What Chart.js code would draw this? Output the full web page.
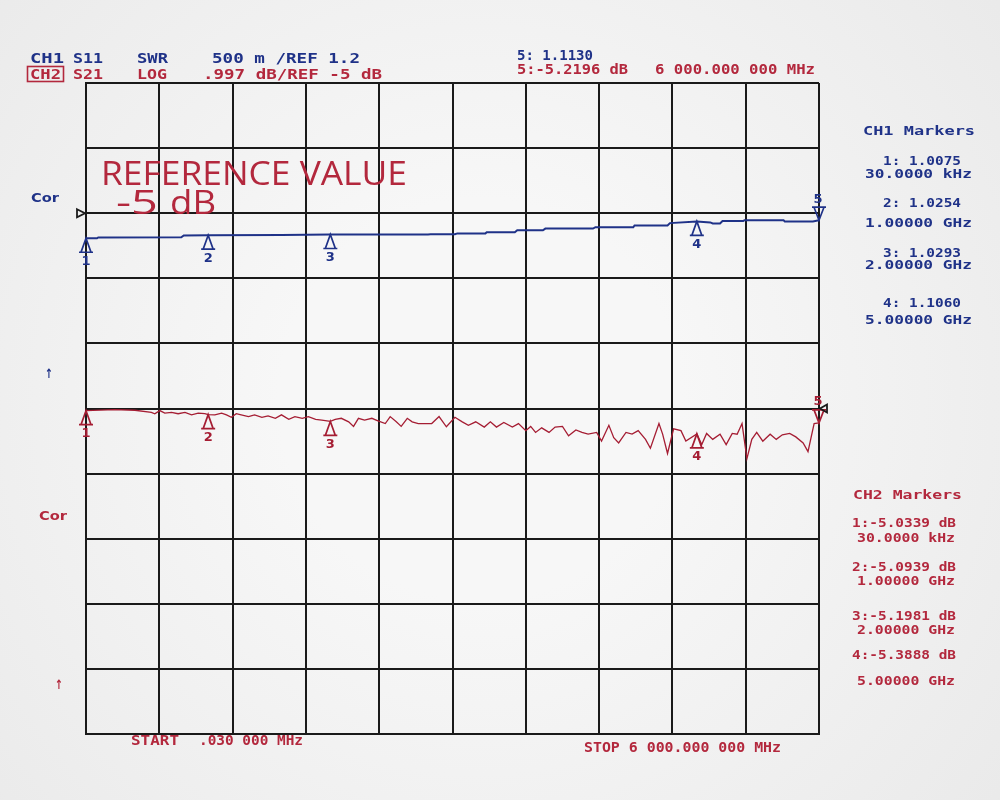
<!DOCTYPE html>
<html>
<head>
<meta charset="utf-8">
<title>S11 / S21 sweep</title>
<script src="https://cdn.jsdelivr.net/npm/chart.js@4.4.0/dist/chart.umd.min.js"></script>
<style>
  html, body { margin: 0; padding: 0; background: #f3f3f3; }
  #wrap { width: 1000px; height: 800px; }
</style>
</head>
<body>
<div id="wrap"><canvas id="plot" width="1000" height="800"></canvas></div>
<script>
// CH1 (S11, SWR) trace
const ch1Freq = [0.00003, 0.09, 0.10, 0.78, 0.80, 1.0, 1.6, 2.0, 2.80, 2.82, 3.02, 3.04, 3.27, 3.28, 3.51, 3.53, 3.74, 3.76, 4.15, 4.17, 4.48, 4.49, 4.76, 4.78, 5.0, 5.11, 5.13, 5.19, 5.21, 5.38, 5.39, 5.71, 5.72, 5.95, 6.0];
const ch1Swr = [1.0075, 1.0075, 1.012, 1.013, 1.024, 1.0254, 1.027, 1.0293, 1.030, 1.031, 1.031, 1.036, 1.036, 1.042, 1.042, 1.054, 1.054, 1.064, 1.064, 1.072, 1.072, 1.082, 1.082, 1.096, 1.106, 1.100, 1.094, 1.094, 1.108, 1.108, 1.113, 1.113, 1.106, 1.106, 1.113];

// CH2 (S21, LOG dB) trace
const ch2Freq = [0.00003, 0.235, 0.40, 0.535, 0.563, 0.604, 0.645, 0.70, 0.754, 0.81, 0.864, 0.918, 0.973, 1.0, 1.055, 1.11, 1.15, 1.19, 1.23, 1.27, 1.33, 1.38, 1.44, 1.49, 1.55, 1.60, 1.66, 1.71, 1.77, 1.82, 1.88, 1.93, 2.0, 2.04, 2.09, 2.15, 2.19, 2.23, 2.28, 2.34, 2.39, 2.45, 2.49, 2.54, 2.58, 2.63, 2.67, 2.72, 2.78, 2.83, 2.89, 2.95, 3.02, 3.08, 3.13, 3.19, 3.26, 3.31, 3.36, 3.42, 3.49, 3.54, 3.60, 3.64, 3.68, 3.73, 3.79, 3.84, 3.90, 3.95, 4.01, 4.06, 4.11, 4.18, 4.22, 4.28, 4.32, 4.36, 4.42, 4.47, 4.52, 4.58, 4.62, 4.69, 4.72, 4.76, 4.81, 4.87, 4.91, 5.0, 5.04, 5.08, 5.13, 5.19, 5.24, 5.29, 5.33, 5.37, 5.41, 5.45, 5.49, 5.54, 5.60, 5.65, 5.70, 5.76, 5.81, 5.87, 5.91, 5.96, 6.0];
const ch2Db = [-5.0339, -5.016, -5.027, -5.059, -5.081, -5.032, -5.070, -5.060, -5.080, -5.060, -5.097, -5.070, -5.080, -5.0939, -5.097, -5.070, -5.097, -5.135, -5.080, -5.097, -5.124, -5.097, -5.135, -5.113, -5.150, -5.097, -5.166, -5.124, -5.150, -5.124, -5.166, -5.177, -5.1981, -5.166, -5.150, -5.204, -5.274, -5.150, -5.177, -5.150, -5.188, -5.231, -5.124, -5.204, -5.274, -5.150, -5.204, -5.231, -5.231, -5.231, -5.124, -5.280, -5.135, -5.204, -5.258, -5.204, -5.285, -5.204, -5.285, -5.215, -5.285, -5.231, -5.339, -5.274, -5.366, -5.296, -5.366, -5.285, -5.274, -5.419, -5.328, -5.366, -5.393, -5.366, -5.500, -5.258, -5.446, -5.527, -5.366, -5.393, -5.339, -5.473, -5.608, -5.231, -5.393, -5.689, -5.311, -5.339, -5.500, -5.3888, -5.553, -5.382, -5.473, -5.393, -5.553, -5.382, -5.393, -5.231, -5.769, -5.473, -5.366, -5.500, -5.393, -5.473, -5.403, -5.382, -5.435, -5.527, -5.661, -5.231, -5.2196];

// markers
const markerFreq = [0.00003, 1.0, 2.0, 5.0, 6.0];
const markerFreqLabel = ['30.0000 kHz', '1.00000 GHz', '2.00000 GHz', '5.00000 GHz', '6 000.000 000 MHz'];
const ch1Markers = [1.0075, 1.0254, 1.0293, 1.1060, 1.1130];
const ch2Markers = [-5.0339, -5.0939, -5.1981, -5.3888, -5.2196];

const BLUE = '#1f3288';
const RED = '#a51d33';
const TXT_RED = '#b3283d';
const GRID = '#1a1a1a';
const MONO = "bold 14px 'DejaVu Sans Mono'";

// draws text stretched horizontally to a given width
function fitText(ctx, s, x, y, w, color, font) {
  ctx.save();
  ctx.font = font || MONO;
  ctx.fillStyle = color;
  ctx.textAlign = 'left';
  ctx.textBaseline = 'alphabetic';
  const m = ctx.measureText(s).width;
  ctx.translate(x, y);
  ctx.scale(w / m, 1);
  ctx.fillText(s, 0, 0);
  ctx.restore();
}

const backdrop = {
  id: 'backdrop',
  beforeDraw(chart) {
    const ctx = chart.ctx;
    const g = ctx.createRadialGradient(480, 400, 200, 480, 400, 720);
    g.addColorStop(0, '#f7f7f7');
    g.addColorStop(1, '#e8e8e8');
    ctx.save();
    ctx.fillStyle = g;
    ctx.fillRect(0, 0, chart.width, chart.height);
    ctx.restore();
  }
};

const markerPlugin = {
  id: 'markers',
  afterDatasetsDraw(chart) {
    const ctx = chart.ctx;
    const x = chart.scales.x;
    const sets = [[chart.scales.y1, ch1Markers, BLUE], [chart.scales.y2, ch2Markers, RED]];
    ctx.save();
    ctx.lineWidth = 1.7;
    ctx.font = "bold 13px 'DejaVu Sans'";
    ctx.textAlign = 'center';
    ctx.textBaseline = 'middle';
    sets.forEach(([ys, vals, col]) => {
      ctx.strokeStyle = col;
      ctx.fillStyle = col;
      vals.forEach((v, i) => {
        const px = x.getPixelForValue(markerFreq[i]);
        const py = ys.getPixelForValue(v);
        ctx.beginPath();
        if (i < 4) {
          ctx.moveTo(px, py);
          ctx.lineTo(px - 5, py + 14);
          ctx.lineTo(px + 5, py + 14);
          ctx.closePath();
          ctx.moveTo(px - 7, py + 14);
          ctx.lineTo(px + 7, py + 14);
          ctx.stroke();
          ctx.fillText(String(i + 1), px, py + 23);
        } else {
          ctx.moveTo(px, py);
          ctx.lineTo(px - 5, py - 13);
          ctx.lineTo(px + 5, py - 13);
          ctx.closePath();
          ctx.moveTo(px - 7, py - 13);
          ctx.lineTo(px + 7, py - 13);
          ctx.stroke();
          ctx.fillText(String(i + 1), px - 1, py - 21);
        }
      });
    });
    // reference position arrows
    const a = chart.chartArea;
    const r1 = chart.scales.yg.getPixelForValue(8);
    ctx.strokeStyle = GRID;
    ctx.lineWidth = 1.8;
    ctx.beginPath();
    ctx.moveTo(a.left - 9, r1 - 4);
    ctx.lineTo(a.left - 1, r1);
    ctx.lineTo(a.left - 9, r1 + 4);
    ctx.closePath();
    ctx.stroke();
    const r2 = chart.scales.yg.getPixelForValue(5);
    ctx.beginPath();
    ctx.moveTo(a.right + 8, r2 - 4);
    ctx.lineTo(a.right + 1, r2);
    ctx.lineTo(a.right + 8, r2 + 4);
    ctx.closePath();
    ctx.stroke();
    ctx.restore();
  }
};

const labelPlugin = {
  id: 'labels',
  afterDraw(chart) {
    const ctx = chart.ctx;
    ctx.save();
    // header, CH1
    fitText(ctx, 'CH1', 30, 63, 34, BLUE);
    fitText(ctx, 'S11', 73, 63, 30, BLUE);
    fitText(ctx, 'SWR', 137, 63, 31, BLUE);
    fitText(ctx, '500 m /REF 1.2', 212, 63, 148, BLUE);
    // header, CH2
    ctx.strokeStyle = TXT_RED;
    ctx.lineWidth = 1.6;
    ctx.strokeRect(27.5, 66.5, 36, 15);
    fitText(ctx, 'CH2', 30, 79, 31, TXT_RED);
    fitText(ctx, 'S21', 73, 79, 30, TXT_RED);
    fitText(ctx, 'LOG', 137, 79, 30, TXT_RED);
    fitText(ctx, '.997 dB/REF -5 dB', 203, 79, 179, TXT_RED);
    // active marker readout
    fitText(ctx, '5: ' + ch1Markers[4].toFixed(4), 517, 60, 76, BLUE);
    fitText(ctx, '5:' + ch2Markers[4].toFixed(4) + ' dB', 517, 74, 111, TXT_RED);
    fitText(ctx, markerFreqLabel[4], 655, 74, 160, TXT_RED);

    // marker tables
    const small = "bold 13px 'DejaVu Sans Mono'";
    fitText(ctx, 'CH1 Markers', 863, 135, 112, BLUE, small);
    const ch1Rows = [[165, 178], [207, 227], [257, 269], [307, 324]];
    ch1Rows.forEach(([b1, b2], i) => {
      fitText(ctx, (i + 1) + ': ' + ch1Markers[i].toFixed(4), 883, b1, 78, BLUE, small);
      fitText(ctx, markerFreqLabel[i], 865, b2, 107, BLUE, small);
    });
    fitText(ctx, 'CH2 Markers', 853, 499, 109, TXT_RED, small);
    const ch2Rows = [[527, 542], [571, 585], [620, 634], [659, 685]];
    ch2Rows.forEach(([b1, b2], i) => {
      fitText(ctx, (i + 1) + ':' + ch2Markers[i].toFixed(4) + ' dB', 852, b1, 104, TXT_RED, small);
      fitText(ctx, markerFreqLabel[i], 857, b2, 98, TXT_RED, small);
    });

    // left side annotations
    const side = "bold 13px 'DejaVu Sans'";
    fitText(ctx, 'Cor', 31, 202, 28, BLUE, side);
    fitText(ctx, '\u2191', 45, 378, 8, BLUE, side);
    fitText(ctx, 'Cor', 39, 520, 28, TXT_RED, side);
    fitText(ctx, '\u2191', 55, 689, 8, TXT_RED, side);

    // sweep limits
    fitText(ctx, 'START', 131, 745, 48, TXT_RED);
    fitText(ctx, '.030 000 MHz', 199, 745, 104, TXT_RED);
    fitText(ctx, 'STOP 6 000.000 000 MHz', 584, 752, 197, TXT_RED);

    // reference value note
    const big = "32px 'Open Sans', 'DejaVu Sans'";
    fitText(ctx, 'REFERENCE VALUE', 101, 185, 306, TXT_RED, big);
    fitText(ctx, '-5', 116, 214, 42, TXT_RED, big);
    fitText(ctx, 'dB', 170, 214, 46, TXT_RED, big);
    ctx.restore();
  }
};

const gridOpts = { color: GRID, lineWidth: 2, drawTicks: false };

new Chart(document.getElementById('plot'), {
  type: 'line',
  data: {
    datasets: [
      {
        label: 'CH1 S11 SWR',
        data: ch1Freq.map((f, i) => ({ x: f, y: ch1Swr[i] })),
        yAxisID: 'y1',
        borderColor: BLUE,
        borderWidth: 2,
        pointRadius: 0,
        tension: 0
      },
      {
        label: 'CH2 S21 LOG',
        data: ch2Freq.map((f, i) => ({ x: f, y: ch2Db[i] })),
        yAxisID: 'y2',
        borderColor: RED,
        borderWidth: 1.3,
        pointRadius: 0,
        tension: 0
      }
    ]
  },
  options: {
    responsive: false,
    animation: false,
    devicePixelRatio: 1,
    layout: { padding: { left: 86, top: 83, right: 181, bottom: 66 } },
    plugins: { legend: { display: false }, tooltip: { enabled: false } },
    scales: {
      x: {
        type: 'linear',
        min: 0,
        max: 6,
        ticks: { display: false, count: 11 },
        grid: gridOpts,
        border: { color: GRID, width: 2 },
        afterFit: (s) => { s.height = 0; }
      },
      yg: {
        position: 'left',
        min: 0,
        max: 10,
        ticks: { display: false, stepSize: 1 },
        grid: gridOpts,
        border: { color: GRID, width: 2 },
        afterFit: (s) => { s.width = 0; }
      },
      y1: { display: false, min: -1.887, max: 1.914 },
      y2: { display: false, min: -9.985, max: -0.015 }
    }
  },
  plugins: [backdrop, markerPlugin, labelPlugin]
});
</script>
</body>
</html>
